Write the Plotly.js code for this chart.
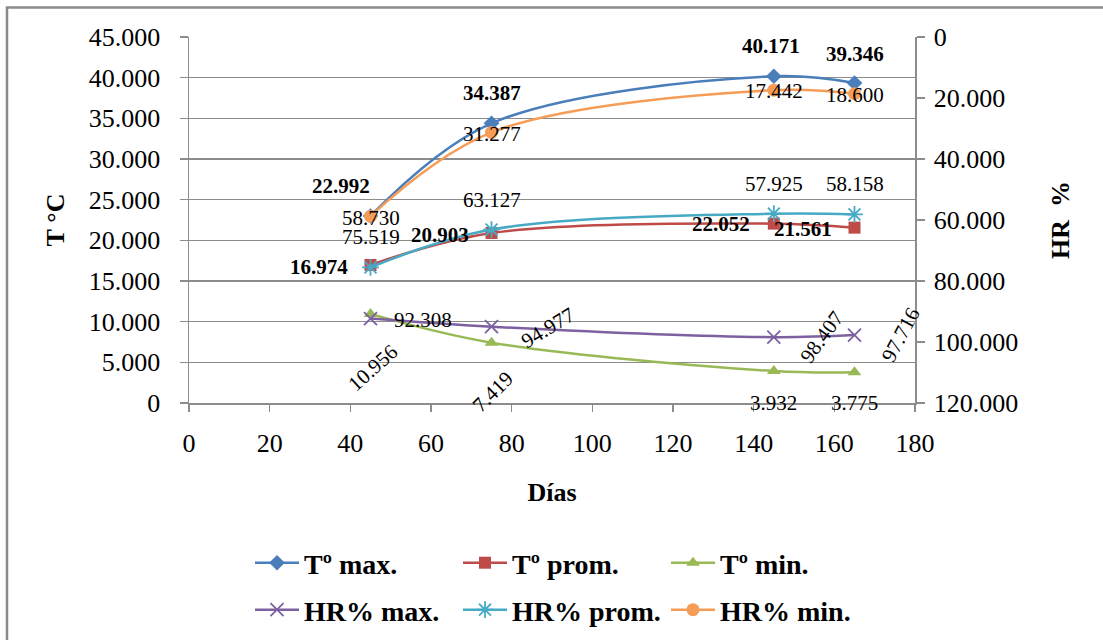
<!DOCTYPE html>
<html>
<head>
<meta charset="utf-8">
<script src="https://cdn.plot.ly/plotly-3.0.1.min.js"></script>
<style>
  html, body { margin: 0; padding: 0; background: #ffffff; }
  #chart { width: 1103px; height: 640px; }
</style>
</head>
<body>
<div id="chart"></div>
<script>
// Sampling days
const days = [45, 75, 145, 165];

// Temperature series (°C, left axis)
const tMax  = [22.992, 34.387, 40.171, 39.346];
const tProm = [16.974, 20.903, 22.052, 21.561];
const tMin  = [10.956, 7.419, 3.932, 3.775];

// Relative humidity series (%, right axis, reversed)
const hrMax  = [92.308, 94.977, 98.407, 97.716];
const hrProm = [75.519, 63.127, 57.925, 58.158];
const hrMin  = [58.730, 31.277, 17.442, 18.600];

// Series names
const names = ['Tº max.', 'Tº prom.', 'Tº min.', 'HR% max.', 'HR% prom.', 'HR% min.'];

// Tick values and labels
const dayTicks = [0, 20, 40, 60, 80, 100, 120, 140, 160, 180];
const tempTicks = [0, 5, 10, 15, 20, 25, 30, 35, 40, 45];
const tempTickText = ['0', '5.000', '10.000', '15.000', '20.000', '25.000', '30.000', '35.000', '40.000', '45.000'];
const hrTicks = [0, 20, 40, 60, 80, 100, 120];
const hrTickText = ['0', '20.000', '40.000', '60.000', '80.000', '100.000', '120.000'];

const SERIF = 'Liberation Serif, Times New Roman, serif';
const GRID = '#8c8c8c';

// Style for each series
const styles = [
  { color: '#4a7ebb', symbol: 'diamond',       size: 12, yaxis: 'y',  legend: 'legend'  },
  { color: '#be4b48', symbol: 'square',        size: 12, yaxis: 'y',  legend: 'legend'  },
  { color: '#98b954', symbol: 'triangle-up',   size: 12, yaxis: 'y',  legend: 'legend'  },
  { color: '#7d60a0', symbol: 'x-thin-open',   size: 13, yaxis: 'y2', legend: 'legend2' },
  { color: '#46aac5', symbol: 'asterisk-open', size: 14, yaxis: 'y2', legend: 'legend2' },
  { color: '#f59d56', symbol: 'circle',        size: 13, yaxis: 'y2', legend: 'legend2' }
];
const series = [tMax, tProm, tMin, hrMax, hrProm, hrMin];

const traces = series.map((vals, i) => {
  const s = styles[i];
  const open = s.symbol.endsWith('open');
  return {
    type: 'scatter',
    mode: 'lines+markers',
    name: names[i],
    x: days,
    y: vals,
    yaxis: s.yaxis,
    legend: s.legend,
    line: { color: s.color, width: 2.5, shape: 'spline', smoothing: 1 },
    marker: {
      symbol: s.symbol,
      size: s.size,
      color: s.color,
      line: { color: s.color, width: open ? 1.8 : 0 }
    },
    cliponaxis: false,
    hoverinfo: 'x+y+name'
  };
});

// Value label placement per series: pixel offsets, rotation, weight
const labelPlacement = [
  { dx: [-30, 0, -3, 0],  dy: [30, 30, 30, 29],   angle: [0, 0, 0, 0],        bold: true  },
  { dx: [-52, -52, -53, -52], dy: [-2, -2, 0, -1], angle: [0, 0, 0, 0],      bold: true  },
  { dx: [2, 1, 0, 0],     dy: [-54, -49, -32, -31], angle: [-42, -45, 0, 0], bold: false },
  { dx: [52, 56, 48, 46], dy: [-1, -1, 0, 0],     angle: [0, -31, -54, -62],  bold: false },
  { dx: [0, 0, 0, 0],     dy: [30, 30, 30, 30],   angle: [0, 0, 0, 0],        bold: false },
  { dx: [0, 0, 0, 0],     dy: [-2, -2, -1, -1],   angle: [0, 0, 0, 0],        bold: false }
];

const annotations = [];
series.forEach((vals, i) => {
  const p = labelPlacement[i];
  vals.forEach((v, j) => {
    annotations.push({
      x: days[j], y: v,
      xref: 'x', yref: styles[i].yaxis,
      text: v.toFixed(3),
      showarrow: false,
      xanchor: 'center', yanchor: 'middle',
      xshift: p.dx[j], yshift: p.dy[j],
      textangle: p.angle[j],
      font: { family: SERIF, size: 21, color: '#000000', weight: p.bold ? 'bold' : 'normal' }
    });
  });
});

const legendBase = {
  orientation: 'h',
  xref: 'container', yref: 'container',
  x: 250 / 1103, xanchor: 'left',
  yanchor: 'middle',
  entrywidth: 149, entrywidthmode: 'pixels',
  itemwidth: 44,
  font: { family: SERIF, size: 28, weight: 'bold', color: '#000000' },
  bgcolor: 'rgba(0,0,0,0)', borderwidth: 0
};

const layout = {
  width: 1103,
  height: 640,
  margin: { l: 189, r: 188, t: 37, b: 237, pad: 0, autoexpand: false },
  paper_bgcolor: '#ffffff',
  plot_bgcolor: '#ffffff',
  font: { family: SERIF, size: 26, color: '#000000' },
  showlegend: true,
  xaxis: {
    range: [0, 180],
    tickvals: dayTicks,
    ticktext: dayTicks.map(String),
    ticks: 'outside',
    ticklen: 7,
    tickwidth: 1.5,
    tickcolor: GRID,
    showline: true,
    linecolor: GRID,
    linewidth: 1.5,
    showgrid: false,
    zeroline: false,
    tickfont: { family: SERIF, size: 26 },
    ticklabelstandoff: 9,
    title: { text: 'Días', font: { family: SERIF, size: 26, weight: 'bold' }, standoff: 26 }
  },
  yaxis: {
    range: [0, 45],
    tickvals: tempTicks,
    ticktext: tempTickText,
    ticks: 'outside',
    ticklen: 8,
    tickwidth: 1.5,
    tickcolor: GRID,
    showline: true,
    linecolor: GRID,
    linewidth: 1.5,
    showgrid: true,
    gridcolor: GRID,
    gridwidth: 1.5,
    zeroline: false,
    tickfont: { family: SERIF, size: 26 },
    ticklabelstandoff: 14,
    title: { text: 'T\u00a0°C', font: { family: SERIF, size: 26, weight: 'bold' }, standoff: 16 }
  },
  yaxis2: {
    overlaying: 'y',
    side: 'right',
    range: [120, 0],
    tickvals: hrTicks,
    ticktext: hrTickText,
    ticks: 'outside',
    ticklen: 8,
    tickwidth: 1.5,
    tickcolor: GRID,
    showline: true,
    linecolor: GRID,
    linewidth: 1.5,
    showgrid: false,
    zeroline: false,
    tickfont: { family: SERIF, size: 26 },
    ticklabelstandoff: 4,
    title: { text: 'HR\u00a0\u00a0%', font: { family: SERIF, size: 26, weight: 'bold' }, standoff: 33 }
  },
  legend: Object.assign({}, legendBase, { y: 1 - 563 / 640 }),
  legend2: Object.assign({}, legendBase, { y: 1 - 610 / 640 }),
  shapes: [{
    type: 'rect', xref: 'paper', yref: 'paper',
    x0: -0.2507, x1: 1.35, y0: -0.80, y1: 1.0806,
    line: { color: '#8a8a8a', width: 2.5 },
    fillcolor: 'rgba(0,0,0,0)',
    layer: 'below'
  }],
  annotations: annotations
};

Plotly.newPlot('chart', traces, layout, { displayModeBar: false, staticPlot: true });
</script>
</body>
</html>
